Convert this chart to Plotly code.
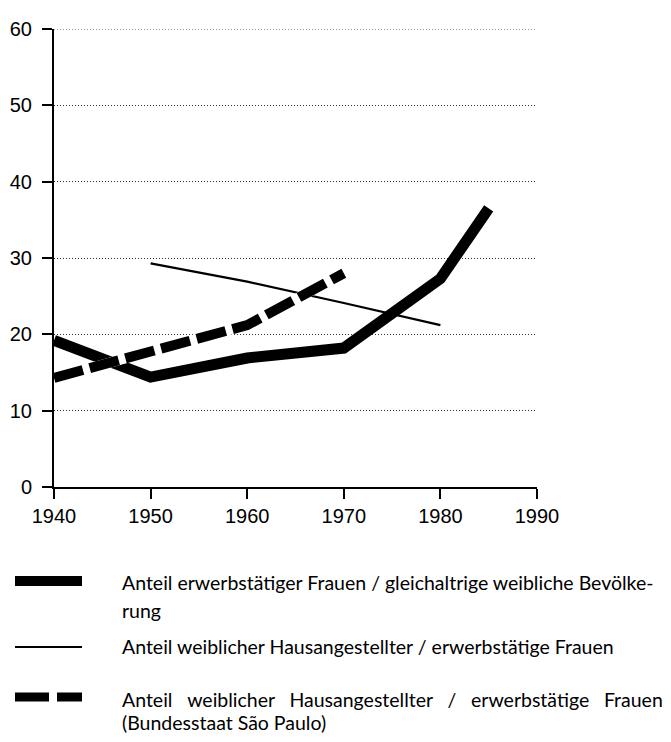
import plotly.graph_objects as go

# ---- data ----
years_total = [1940, 1950, 1960, 1970, 1980, 1985]
share_employed_women = [19.2, 14.4, 16.9, 18.2, 27.3, 36.5]

years_domestic = [1950, 1960, 1970, 1980]
share_domestic = [29.3, 26.9, 24.1, 21.2]

years_sp = [1940, 1950, 1960, 1970]
share_domestic_sp = [14.3, 17.6, 21.2, 28.0]

y_ticks = [0, 10, 20, 30, 40, 50, 60]
x_ticks = [1940, 1950, 1960, 1970, 1980, 1990]

GAP = " \u2002"
legend_lines = [
    "Anteil erwerbstätiger Frauen / gleichaltrige weibliche Bevölke-",
    "rung",
    "Anteil weiblicher Hausangestellter / erwerbstätige Frauen",
    GAP.join(["Anteil", "weiblicher", "Hausangestellter", "/", "erwerbstätige", "Frauen"]),
    "(Bundesstaat São Paulo)",
]

OFF = 8  # page body margin
W, H = 655, 726
L, R, T, B = 46, 126, 21, 247
PW, PH = W - L - R, H - T - B


def px(x):  # page x -> paper
    return (x - OFF - L) / PW


def py(y):  # page y -> paper
    return (H - B - (y - OFF)) / PH


fig = go.Figure()

fig.add_trace(go.Scatter(x=years_domestic, y=share_domestic, mode="lines",
                         line=dict(color="black", width=2.2), showlegend=False))
fig.add_trace(go.Scatter(x=years_total, y=share_employed_women, mode="lines",
                         line=dict(color="black", width=11), showlegend=False))
fig.add_trace(go.Scatter(x=years_sp, y=share_domestic_sp, mode="lines",
                         line=dict(color="white", width=10), showlegend=False))
fig.add_trace(go.Scatter(x=years_sp, y=share_domestic_sp, mode="lines",
                         line=dict(color="black", width=10, dash="30px,7px"),
                         showlegend=False))

shapes = []
# top gridline at 60
shapes.append(dict(type="line", xref="paper", yref="y", x0=0, x1=1, y0=60, y1=60,
                   line=dict(color="#333", width=1, dash="1px,2px"), layer="below"))
# legend symbols
shapes.append(dict(type="line", xref="paper", yref="paper", x0=px(15), x1=px(82),
                   y0=py(581), y1=py(581), line=dict(color="black", width=10)))
shapes.append(dict(type="line", xref="paper", yref="paper", x0=px(15), x1=px(82),
                   y0=py(647), y1=py(647), line=dict(color="black", width=2)))
shapes.append(dict(type="line", xref="paper", yref="paper", x0=px(15), x1=px(49),
                   y0=py(697), y1=py(697), line=dict(color="black", width=9)))
shapes.append(dict(type="line", xref="paper", yref="paper", x0=px(57), x1=px(82),
                   y0=py(697), y1=py(697), line=dict(color="black", width=9)))

text_y = [582, 610, 646, 699, 722]
annotations = []
for t, yy in zip(legend_lines, text_y):
    annotations.append(dict(text=t, xref="paper", yref="paper", x=px(120), y=py(yy),
                            xanchor="left", yanchor="middle", showarrow=False,
                            font=dict(family="Lato", size=19.5, color="black")))

fig.update_layout(
    width=W, height=H,
    margin=dict(l=L, r=R, t=T, b=B, autoexpand=False),
    paper_bgcolor="white", plot_bgcolor="white",
    shapes=shapes, annotations=annotations,
    showlegend=False,
    xaxis=dict(range=[1940, 1990], tickvals=x_ticks, ticktext=[str(v) for v in x_ticks],
               automargin=False,
               showgrid=False, zeroline=False, showline=True, linecolor="black", linewidth=2,
               ticks="outside", ticklen=10, tickwidth=2, tickcolor="black",
               tickfont=dict(family="Liberation Sans", size=20, color="black")),
    yaxis=dict(range=[0, 60], tickvals=y_ticks, ticktext=[str(v) for v in y_ticks],
               automargin=False,
               showgrid=True, gridcolor="#333", gridwidth=1, griddash="1px,2px",
               zeroline=False, showline=True, linecolor="black", linewidth=2,
               ticks="outside", ticklen=10, tickwidth=2, tickcolor="black",
               ticklabelstandoff=6,
               tickfont=dict(family="Liberation Sans", size=20, color="black")),
)

fig.write_html("out.html")
